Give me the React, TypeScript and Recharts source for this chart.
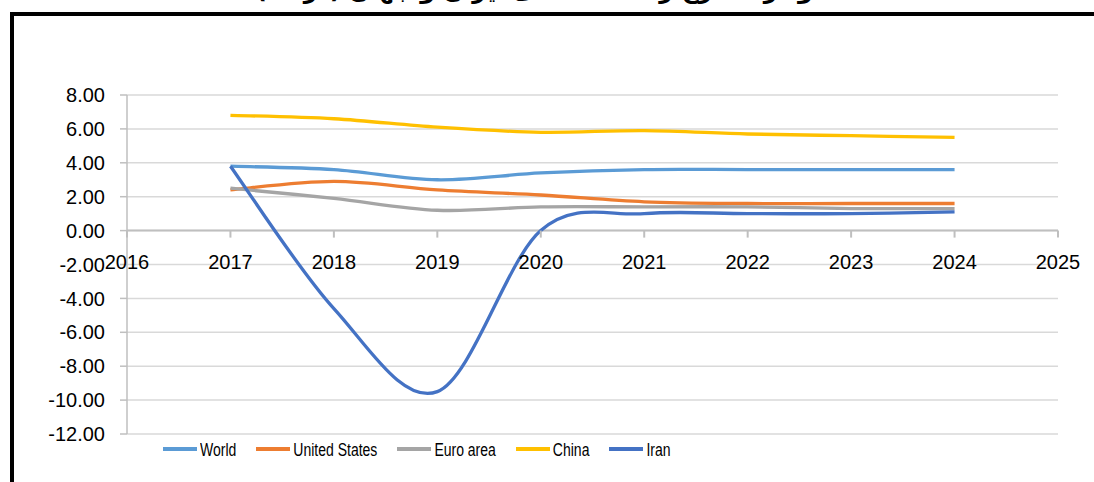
import React from "react";
import {
    LineChart,
    Line,
    CartesianGrid,
    XAxis,
    YAxis,
    Legend,
    ReferenceLine,
    ReferenceDot,
} from "recharts";

const years = [2017, 2018, 2019, 2020, 2021, 2022, 2023, 2024];
const xTicks = [2016, 2017, 2018, 2019, 2020, 2021, 2022, 2023, 2024, 2025];
const yTicks = [-12, -10, -8, -6, -4, -2, 0, 2, 4, 6, 8];

const world = [3.8, 3.6, 3.0, 3.4, 3.6, 3.6, 3.6, 3.6];
const unitedStates = [2.4, 2.9, 2.4, 2.1, 1.7, 1.6, 1.6, 1.6];
const euroArea = [2.5, 1.9, 1.2, 1.4, 1.4, 1.4, 1.3, 1.3];
const china = [6.8, 6.6, 6.1, 5.8, 5.9, 5.7, 5.6, 5.5];
const iran = [3.8, -4.6, -9.5, 0.0, 1.0, 1.0, 1.0, 1.1];

const seriesList = [
    { key: "world", name: "World", color: "#5B9BD5", values: world },
    { key: "us", name: "United States", color: "#ED7D31", values: unitedStates },
    { key: "euro", name: "Euro area", color: "#A5A5A5", values: euroArea },
    { key: "china", name: "China", color: "#FFC000", values: china },
    { key: "iran", name: "Iran", color: "#4472C4", values: iran },
];

const data = years.map((year, i) => {
    const row: any = { year };
    seriesList.forEach((s) => {
        row[s.key] = s.values[i];
    });
    return row;
});

// excel-like smoothing (catmull-rom style bezier)
const excelCurve = (context: any) => {
    let pts: number[][] = [];
    return {
        areaStart() {},
        areaEnd() {},
        lineStart() {
            pts = [];
        },
        point(x: number, y: number) {
            pts.push([+x, +y]);
        },
        lineEnd() {
            if (!pts.length) return;
            context.moveTo(pts[0][0], pts[0][1]);
            for (let i = 0; i < pts.length - 1; i++) {
                const p0 = pts[Math.max(i - 1, 0)];
                const p1 = pts[i];
                const p2 = pts[i + 1];
                const p3 = pts[Math.min(i + 2, pts.length - 1)];
                context.bezierCurveTo(
                    p1[0] + (p2[0] - p0[0]) / 6,
                    p1[1] + (p2[1] - p0[1]) / 6,
                    p2[0] - (p3[0] - p1[0]) / 6,
                    p2[1] - (p3[1] - p1[1]) / 6,
                    p2[0],
                    p2[1]
                );
            }
        },
    };
};

const font = "'Liberation Sans', Arial, sans-serif";

const YearTick = ({ cx, cy, year }: any) => (
    <g>
        <line x1={cx} y1={cy} x2={cx} y2={cy + 7} stroke="#bfbfbf" strokeWidth={2} />
        <text
            x={cx}
            y={cy + 38}
            textAnchor="middle"
            fontFamily={font}
            fontSize={20}
            fill="#000"
        >
            {year}
        </text>
    </g>
);

// keep the original series order (recharts sorts the payload by name)
const LegendContent = () => (
    <div
        style={{
            display: "flex",
            alignItems: "center",
            fontFamily: font,
            fontSize: 14,
            color: "#000",
            paddingTop: 7,
        }}
    >
        {seriesList.map((s) => (
            <div
                key={s.key}
                style={{ display: "flex", alignItems: "center", marginRight: 20 }}
            >
                <span
                    style={{
                        display: "inline-block",
                        width: 34,
                        height: 3.5,
                        background: s.color,
                        marginRight: 3,
                    }}
                />
                <span style={{ display: "inline-block", transform: "scale(1, 1.35)" }}>
                    {s.name}
                </span>
            </div>
        ))}
    </div>
);

export default function App() {
    return (
        <div style={{ position: "absolute", left: 0, top: 0, width: 1094, height: 482, overflow: "hidden", background: "#fff" }}>
            <div
                dir="rtl"
                style={{
                    position: "absolute",
                    top: -27,
                    left: 0,
                    width: 1094,
                    textAlign: "center",
                    fontFamily: "'DejaVu Sans', sans-serif",
                    fontWeight: "bold",
                    fontSize: 24,
                    lineHeight: "34px",
                }}
            >
                نمودار ۱: نرخ رشد اقتصادی ایران و جهان (درصد)
            </div>
            <div
                style={{
                    position: "absolute",
                    left: 10,
                    top: 12,
                    width: 1100,
                    height: 500,
                    border: "4px solid #000",
                }}
            />
            <div style={{ position: "absolute", left: 0, top: 0 }}>
                <LineChart
                    width={1094}
                    height={482}
                    data={data}
                    margin={{ top: 95, right: 36, bottom: 18, left: 17 }}
                >
                    <CartesianGrid vertical={false} stroke="#d9d9d9" strokeWidth={1.5} />
                    <XAxis
                        dataKey="year"
                        type="number"
                        domain={[2016, 2025]}
                        ticks={xTicks}
                        hide
                    />
                    <YAxis
                        width={110}
                        domain={[-12, 8]}
                        ticks={yTicks}
                        interval={0}
                        tickFormatter={(v: number) => v.toFixed(2)}
                        axisLine={{ stroke: "#bfbfbf", strokeWidth: 1.5 }}
                        tickLine={{ stroke: "#bfbfbf", strokeWidth: 1.5 }}
                        tickSize={7}
                        tickMargin={15}
                        tick={{ fontFamily: font, fontSize: 20, fill: "#000" }}
                    />
                    <ReferenceLine y={0} stroke="#bfbfbf" strokeWidth={2} />
                    {xTicks.map((yr) => (
                        <ReferenceDot
                            key={yr}
                            x={yr}
                            y={0}
                            r={0}
                            shape={(p: any) => <YearTick {...p} year={yr} />}
                        />
                    ))}
                    {seriesList.map((s) => (
                        <Line
                            key={s.key}
                            dataKey={s.key}
                            name={s.name}
                            type={excelCurve as any}
                            stroke={s.color}
                            strokeWidth={3.3}
                            dot={false}
                            isAnimationActive={false}
                        />
                    ))}
                    <Legend
                        verticalAlign="bottom"
                        height={30}
                        content={<LegendContent />}
                        wrapperStyle={{ left: 163, width: 700 }}
                    />
                </LineChart>
            </div>
        </div>
    );
}
